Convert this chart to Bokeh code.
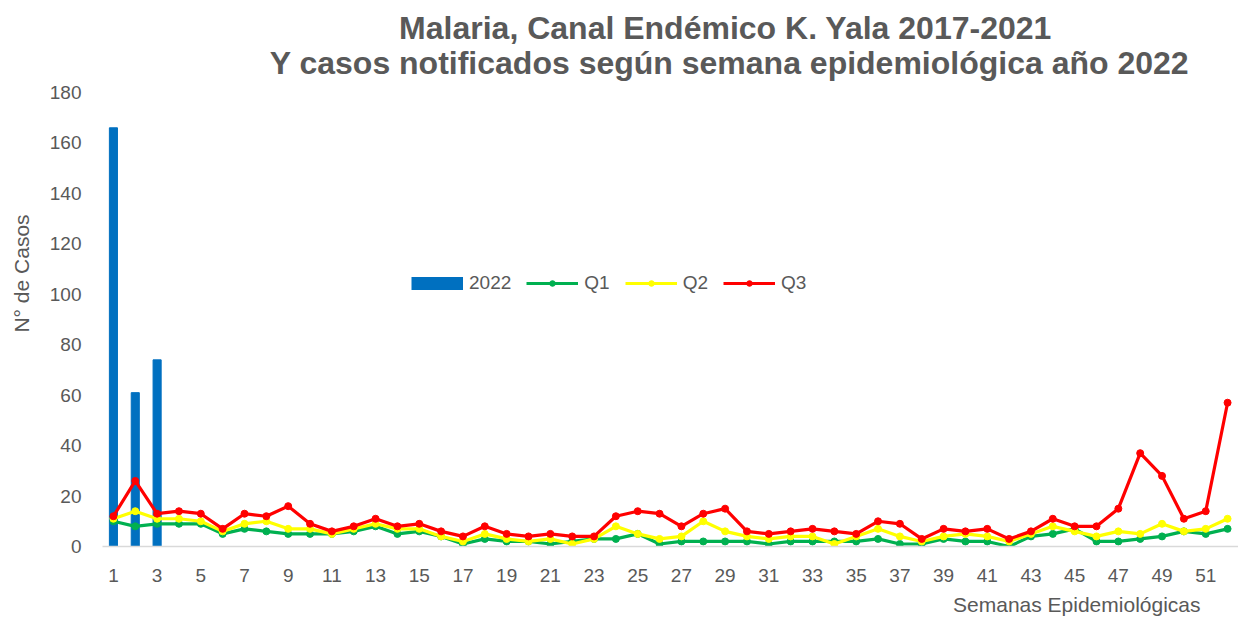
from bokeh.plotting import figure
from bokeh.models import Range1d, FixedTicker, Legend, LegendItem, Title, Label
from bokeh.embed import file_html
from bokeh.resources import INLINE

# ---------------- data ----------------
weeks = list(range(1, 53))
weeks_2022 = [1, 2, 3]
cases_2022 = [166, 61, 74]
q1 = [10, 8, 9, 9, 9, 5, 7, 6, 5, 5, 5, 6, 8, 5, 6, 4, 1, 3, 2, 2, 1, 2, 3, 3, 5, 1,
      2, 2, 2, 2, 1, 2, 2, 2, 2, 3, 1, 1, 3, 2, 2, 0, 4, 5, 7, 2, 2, 3, 4, 6, 5, 7]
q2 = [11, 14, 11, 11, 10, 6, 9, 10, 7, 7, 5, 7, 9, 7, 7, 4, 2, 5, 3, 2, 3, 1, 3, 8, 5, 3,
      4, 10, 6, 4, 3, 4, 4, 1, 4, 7, 4, 2, 4, 5, 4, 2, 5, 8, 6, 4, 6, 5, 9, 6, 7, 11]
q3 = [12, 26, 13, 14, 13, 7, 13, 12, 16, 9, 6, 8, 11, 8, 9, 6, 4, 8, 5, 4, 5, 4, 4, 12, 14, 13,
      8, 13, 15, 6, 5, 6, 7, 6, 5, 10, 9, 3, 7, 6, 7, 3, 6, 11, 8, 8, 15, 37, 28, 11, 14, 57]
x_ticks = list(range(1, 52, 2))
y_ticks = list(range(0, 181, 20))

title_lines = ["Malaria, Canal Endémico K. Yala 2017-2021",
               "Y casos notificados según semana epidemiológica año 2022"]
y_title = "N° de Casos"
x_title = "Semanas Epidemiológicas"

GRAY = "#595959"
FONT = "Liberation Sans"

# layout: the value axis 0..180 spans 454 px; the frame extends up to the
# top of the canvas (546 px) so the two title lines can be drawn inside it
W, H = 1238, 625
PLOT_H = 546
Y_TOP = 180 * PLOT_H / 454

p = figure(width=W, height=H, output_backend="svg", toolbar_location=None,
           x_range=Range1d(0.5, 52.5), y_range=Range1d(0, Y_TOP),
           min_border_left=102, min_border_right=0, min_border_top=0,
           min_border_bottom=H - PLOT_H)
p.outline_line_color = None
p.xgrid.visible = False
p.ygrid.visible = False
p.background_fill_color = "white"

bars = p.vbar(x=weeks_2022, top=cases_2022, width=0.37, color="#0070C0")
# legend proxy for the bar series (wide rectangle swatch)
bar_proxy = p.line(x=[float("nan")], y=[float("nan")], line_color="#0070C0", line_width=13)

series = [(q1, "#00B050", "Q1"), (q2, "#FFFF00", "Q2"), (q3, "#FF0000", "Q3")]
items = [LegendItem(label="2022", renderers=[bar_proxy])]
for vals, col, name in series:
    ln = p.line(x=weeks, y=vals, line_color=col, line_width=3.2)
    sc = p.scatter(x=weeks, y=vals, size=7, color=col)
    items.append(LegendItem(label=name, renderers=[ln, sc]))

legend = Legend(items=items, orientation="horizontal", location=(309, 252),
                glyph_width=52, glyph_height=14, label_standoff=6, spacing=15,
                padding=0, margin=0, border_line_color=None, background_fill_alpha=0,
                label_text_font=FONT, label_text_font_size="19px", label_text_color=GRAY)
p.add_layout(legend, "center")

# axes
p.xaxis.ticker = FixedTicker(ticks=x_ticks)
p.yaxis.ticker = FixedTicker(ticks=y_ticks)
for ax in (p.xaxis[0], p.yaxis[0]):
    ax.major_tick_line_color = None
    ax.minor_tick_line_color = None
    ax.major_tick_out = 0
    ax.major_tick_in = 0
    ax.major_label_text_font = FONT
    ax.major_label_text_font_size = "19px"
    ax.major_label_text_color = GRAY
p.xaxis.major_label_standoff = 22
p.yaxis.major_label_standoff = 21
p.xaxis.axis_line_color = "#D9D9D9"
p.xaxis.axis_line_width = 1.5
p.yaxis.axis_line_color = None
p.yaxis.axis_label = y_title
p.yaxis.axis_label_standoff = 14
p.yaxis.axis_label_text_font = FONT
p.yaxis.axis_label_text_font_size = "21px"
p.yaxis.axis_label_text_font_style = "normal"
p.yaxis.axis_label_text_color = GRAY

# title lines (drawn inside the extended frame), vertically centred on the caps
for txt, xx, yy in zip(title_lines, [623, 627], [PLOT_H - 27, PLOT_H - 62]):
    p.add_layout(Label(x=xx, y=yy, x_units="screen", y_units="screen", text=txt,
                       text_align="center", text_baseline="middle",
                       text_font=FONT, text_font_size="32px", text_font_style="bold",
                       text_color=GRAY))

p.add_layout(Title(text=x_title, align="right", offset=38, standoff=12,
                   text_font=FONT, text_font_size="21px", text_font_style="normal",
                   text_color=GRAY), "below")

open("out.html", "w").write(file_html(p, INLINE))
